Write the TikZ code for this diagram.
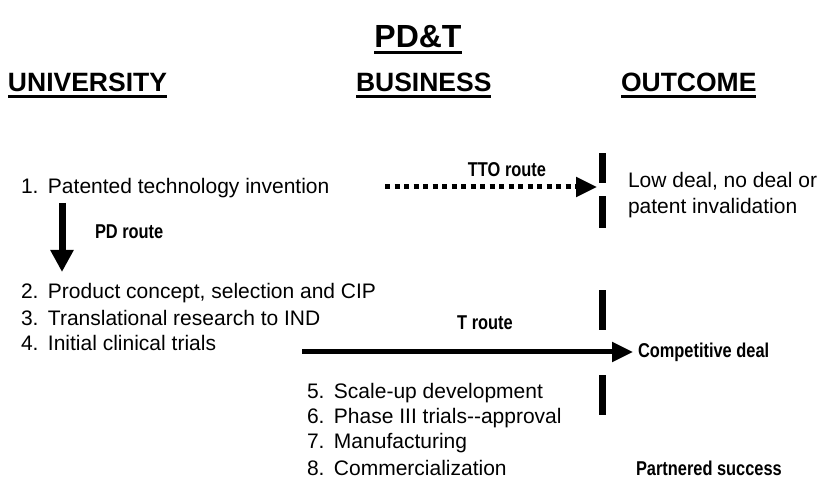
\documentclass[tikz,border=0pt]{standalone}
\usepackage{fontspec}
\setmainfont{Liberation Sans}
\newfontfamily\lblfont[FakeStretch=0.82]{Liberation Sans Bold}
\usetikzlibrary{arrows.meta}
\begin{document}
\begin{tikzpicture}[x=1pt,y=-1pt,
  every node/.style={inner sep=0pt,outer sep=0pt},
  txt/.style={anchor=west,font=\fontsize{21}{25}\selectfont},
  lbl/.style={font=\lblfont\fontsize{20}{24}\selectfont},
  head/.style={anchor=base west,font=\bfseries\fontsize{26.5}{32}\selectfont},
  uline/.style={line width=2.4pt},
  bar/.style={fill=black},
  route/.style={line width=5pt,-{Triangle[length=21pt,width=19pt]}},
  dotroute/.style={route,dash pattern=on 5pt off 4.5pt}]
\useasboundingbox (0,0) rectangle (823,489);

% titles
\node[head,anchor=base,font=\bfseries\fontsize{32}{38}\selectfont] (title) at (418,48) {PD\&T};
\node[head] (univ) at (8,92) {UNIVERSITY};
\node[head] (bus) at (356,92) {BUSINESS};
\node[head] (out) at (621,92) {OUTCOME};
\foreach \n in {title,univ,bus,out}
  \draw[uline] ([yshift=-4.5pt]\n.base west) -- ([yshift=-4.5pt]\n.base east);

% university steps
\newcommand{\stepitem}[2]{\makebox[27pt][l]{#1}#2}
\node[txt] (s1) at (21,188) {\stepitem{1.}{Patented technology invention}};
\node[txt] (s2) at (21,293) {\stepitem{2.}{Product concept, selection and CIP}};
\node[txt] (s3) at (21,318) {\stepitem{3.}{Translational research to IND}};
\node[txt] (s4) at (21,343) {\stepitem{4.}{Initial clinical trials}};

% business steps
\node[txt] (s5) at (307,393) {\stepitem{5.}{Scale-up development}};
\node[txt] (s6) at (307,418) {\stepitem{6.}{Phase III trials-{}-approval}};
\node[txt] (s7) at (307,443) {\stepitem{7.}{Manufacturing}};
\node[txt] (s8) at (307,468) {\stepitem{8.}{Commercialization}};

% outcome gates
\node[bar,minimum width=7pt,minimum height=30pt] (g1) at (602,168) {};
\node[bar,minimum width=7pt,minimum height=32pt] (g2) at (602,212) {};
\node[bar,minimum width=7pt,minimum height=40pt] (g3) at (602,310) {};
\node[bar,minimum width=7pt,minimum height=40pt] (g4) at (602,395) {};

% outcomes
\node[txt,align=left,font=\fontsize{21}{25.5}\selectfont] (o1) at (628,195) {Low deal, no deal or\\patent invalidation};
\node[txt,lbl] (o2) at (638,352) {Competitive deal};
\node[txt,lbl] (o3) at (636,468) {Partnered success};

% routes
\coordinate (tto0) at (385,187);
\coordinate (tto1) at (597,187);
\draw[dotroute] (tto0) -- (tto1);
\node[lbl] (ttol) at (507,170) {TTO route};

\coordinate (pd0) at (62,203);
\coordinate (pd1) at (62,272);
\draw[route,line width=7pt,-{Triangle[length=22pt,width=22pt]}] (pd0) -- (pd1);
\node[lbl,anchor=west] (pdl) at (95,232) {PD route};

\coordinate (t0) at (302,352);
\coordinate (t1) at (633,352);
\draw[route] (t0) -- (t1);
\node[lbl] (tl) at (485,323) {T route};
\end{tikzpicture}
\end{document}
